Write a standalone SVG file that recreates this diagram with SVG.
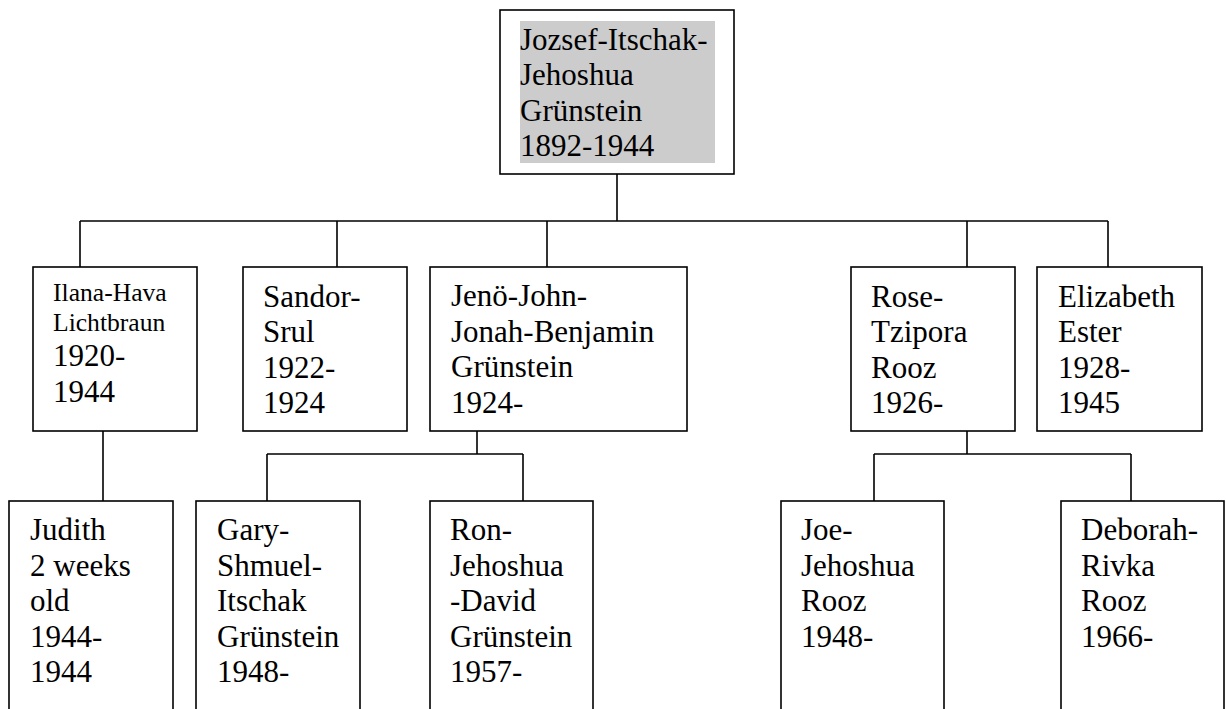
<svg xmlns="http://www.w3.org/2000/svg" width="1226" height="709" viewBox="0 0 1226 709">
<style>
.box{fill:#fff;stroke:#000;stroke-width:1.6}
.ln{fill:none;stroke:#000;stroke-width:1.6}
text{font-family:"Liberation Serif","Times New Roman",serif;font-size:31px;fill:#000}
.sm{font-size:25.6px}
</style>
<rect width="1226" height="709" fill="#fff"/>
<g id="connectors">
<path class="ln" d="M617 174V221M80 221H1108M80 221V267M337 221V267M547 221V267M967 221V267M1108 221V267"/>
<path class="ln" d="M103 431V501"/>
<path class="ln" d="M477 431V454M267 454H523M267 454V501M523 454V501"/>
<path class="ln" d="M967 431V454M874 454H1131M874 454V501M1131 454V501"/>
</g>
<g id="n-jozsef">
<rect class="box" x="500" y="10" width="234" height="164"/>
<rect x="520" y="21" width="195" height="142" fill="#cccccc"/>
<text x="520" y="49.5">Jozsef-Itschak-</text>
<text x="520" y="85">Jehoshua</text>
<text x="520" y="120.5">Grünstein</text>
<text x="520" y="156">1892-1944</text>
</g>
<g id="n-ilana">
<rect class="box" x="33" y="267" width="164" height="164"/>
<text class="sm" x="53" y="301">Ilana-Hava</text>
<text class="sm" x="53" y="331">Lichtbraun</text>
<text x="53" y="365.5">1920-</text>
<text x="53" y="401.5">1944</text>
</g>
<g id="n-sandor">
<rect class="box" x="243" y="267" width="164" height="164"/>
<text x="263" y="306.5">Sandor-</text>
<text x="263" y="342">Srul</text>
<text x="263" y="377.5">1922-</text>
<text x="263" y="413">1924</text>
</g>
<g id="n-jeno">
<rect class="box" x="430" y="267" width="257" height="164"/>
<text x="451" y="306">Jenö-John-</text>
<text x="451" y="341.5">Jonah-Benjamin</text>
<text x="451" y="377">Grünstein</text>
<text x="451" y="412.5">1924-</text>
</g>
<g id="n-rose">
<rect class="box" x="851" y="267" width="164" height="164"/>
<text x="871" y="306.5">Rose-</text>
<text x="871" y="342">Tzipora</text>
<text x="871" y="377.5">Rooz</text>
<text x="871" y="413">1926-</text>
</g>
<g id="n-elizabeth">
<rect class="box" x="1037" y="267" width="165" height="164"/>
<text x="1058" y="306.5">Elizabeth</text>
<text x="1058" y="342">Ester</text>
<text x="1058" y="377.5">1928-</text>
<text x="1058" y="413">1945</text>
</g>
<g id="n-judith">
<rect class="box" x="9" y="501" width="164" height="220"/>
<text x="30" y="540">Judith</text>
<text x="30" y="575.5">2 weeks</text>
<text x="30" y="611">old</text>
<text x="30" y="646.5">1944-</text>
<text x="30" y="682">1944</text>
</g>
<g id="n-gary">
<rect class="box" x="196" y="501" width="164" height="220"/>
<text x="217" y="540">Gary-</text>
<text x="217" y="575.5">Shmuel-</text>
<text x="217" y="611">Itschak</text>
<text x="217" y="646.5">Grünstein</text>
<text x="217" y="682">1948-</text>
</g>
<g id="n-ron">
<rect class="box" x="430" y="501" width="163" height="220"/>
<text x="450" y="540">Ron-</text>
<text x="450" y="575.5">Jehoshua</text>
<text x="450" y="611">-David</text>
<text x="450" y="646.5">Grünstein</text>
<text x="450" y="682">1957-</text>
</g>
<g id="n-joe">
<rect class="box" x="781" y="501" width="163" height="220"/>
<text x="801" y="540">Joe-</text>
<text x="801" y="575.5">Jehoshua</text>
<text x="801" y="611">Rooz</text>
<text x="801" y="646.5">1948-</text>
</g>
<g id="n-deborah">
<rect class="box" x="1061" y="501" width="163" height="220"/>
<text x="1081" y="540">Deborah-</text>
<text x="1081" y="575.5">Rivka</text>
<text x="1081" y="611">Rooz</text>
<text x="1081" y="646.5">1966-</text>
</g>
</svg>
